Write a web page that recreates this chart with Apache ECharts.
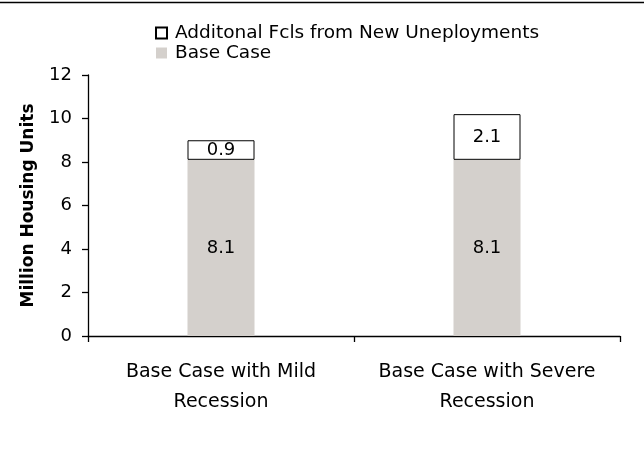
<!DOCTYPE html>
<html>
<head>
<meta charset="utf-8">
<script src="https://cdn.jsdelivr.net/npm/echarts@6/dist/echarts.min.js"></script>
<style>
  html, body { margin: 0; padding: 0; background: #ffffff; }
  #chart { width: 644px; height: 464px; }
</style>
</head>
<body>
<div id="chart"></div>
<script>
// Scenario categories (two-line axis labels)
const categories = [
  'Base Case with Mild\nRecession',
  'Base Case with Severe\nRecession'
];
// Stacked components, million housing units
const baseCase = [8.1, 8.1];
const additional = [0.9, 2.1];
const yTicks = { min: 0, max: 12, interval: 2 };

const FONT = 'DejaVu Sans';
const chart = echarts.init(document.getElementById('chart'), null, { renderer: 'canvas' });

chart.setOption({
  animation: false,
  backgroundColor: '#ffffff',
  textStyle: { fontFamily: FONT },
  graphic: [{
    type: 'line',
    shape: { x1: 0, y1: 2.5, x2: 644, y2: 2.5 },
    style: { stroke: '#000000', lineWidth: 1.6 }
  }],
  legend: {
    orient: 'vertical',
    left: 150,
    top: 18,
    itemGap: 0,
    itemWidth: 11,
    itemHeight: 11,
    icon: 'rect',
    textStyle: { fontFamily: FONT, fontSize: 18.5, color: '#000000', lineHeight: 20, padding: [0, 0, 0, 3] },
    data: ['Additonal Fcls from New Uneployments', 'Base Case']
  },
  grid: { left: 88, right: 24, top: 75, bottom: 128, containLabel: false },
  xAxis: {
    type: 'category',
    data: categories,
    axisLine: { lineStyle: { color: '#000000', width: 1.3 } },
    axisTick: { show: true, length: 6, lineStyle: { color: '#000000', width: 1.3 } },
    axisLabel: { interval: 0, fontFamily: FONT, fontSize: 19, color: '#000000', margin: 21, lineHeight: 30 }
  },
  yAxis: {
    type: 'value',
    min: yTicks.min,
    max: yTicks.max,
    interval: yTicks.interval,
    name: 'Million Housing Units',
    nameLocation: 'middle',
    nameRotate: 90,
    nameGap: 51,
    nameTextStyle: { fontFamily: FONT, fontSize: 17, fontWeight: 'bold', color: '#000000' },
    axisLine: { show: true, lineStyle: { color: '#000000', width: 1.3 } },
    axisTick: { show: true, length: 6, lineStyle: { color: '#000000', width: 1.3 } },
    splitLine: { show: false },
    axisLabel: { fontFamily: FONT, fontSize: 18, color: '#000000', margin: 16 }
  },
  series: [
    {
      name: 'Base Case',
      type: 'bar',
      stack: 'total',
      barWidth: 67,
      data: baseCase,
      itemStyle: { color: '#d4d0cc' },
      label: { show: true, position: 'inside', fontFamily: FONT, fontSize: 18, color: '#000000' }
    },
    {
      name: 'Additonal Fcls from New Uneployments',
      type: 'bar',
      stack: 'total',
      barWidth: 67,
      data: additional,
      itemStyle: { color: '#ffffff', borderColor: '#000000', borderWidth: 1 },
      label: { show: true, position: 'inside', fontFamily: FONT, fontSize: 18, color: '#000000' }
    }
  ]
});
</script>
</body>
</html>
